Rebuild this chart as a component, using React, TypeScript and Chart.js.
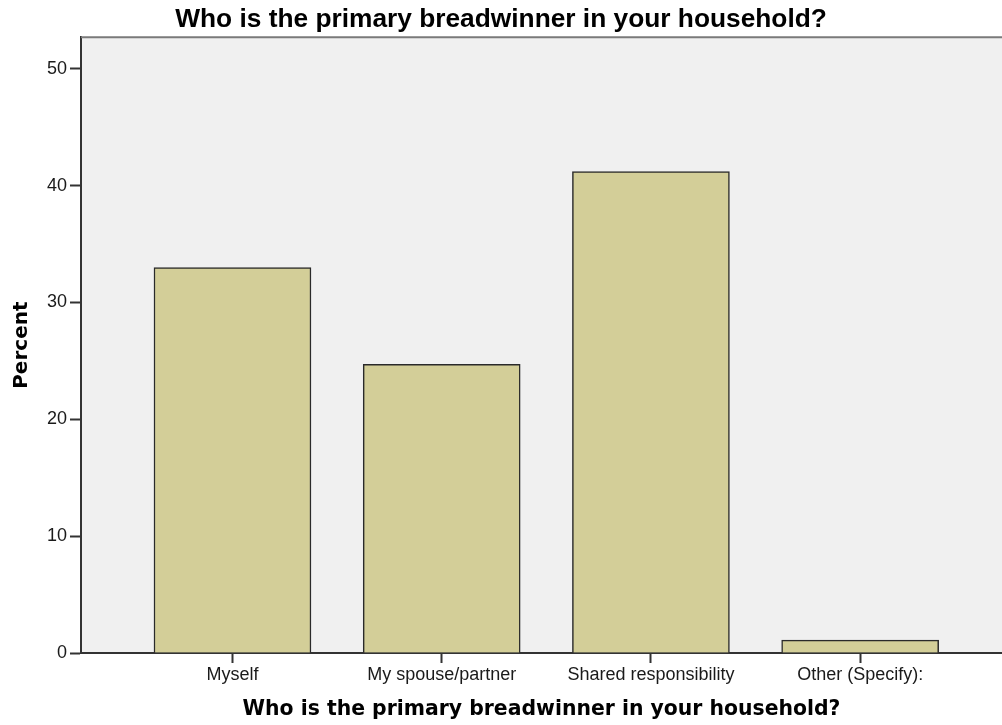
import React, { useEffect, useRef } from "react";
import { Chart, registerables } from "chart.js";

Chart.register(...registerables);

const categories: string[] = ["Myself", "My spouse/partner", "Shared responsibility", "Other (Specify):"];
const percentValues: number[] = [33.0, 24.7, 41.2, 1.1];
const yTickValues: number[] = [0, 10, 20, 30, 40, 50];
const chartTitle = "Who is the primary breadwinner in your household?";
const xAxisTitle = "Who is the primary breadwinner in your household?";
const yAxisTitle = "Percent";

const plotFramePlugin = {
  id: "plotFrame",
  beforeDraw(chart: any) {
    const { ctx, chartArea } = chart;
    ctx.save();
    ctx.fillStyle = "#f0f0f0";
    ctx.fillRect(chartArea.left, chartArea.top, chartArea.right - chartArea.left, chartArea.bottom - chartArea.top);
    ctx.restore();
  },
  afterDraw(chart: any) {
    const { ctx, chartArea } = chart;
    ctx.save();
    ctx.strokeStyle = "#7a7a7a";
    ctx.lineWidth = 2;
    ctx.beginPath();
    ctx.moveTo(chartArea.left, chartArea.top);
    ctx.lineTo(chartArea.right, chartArea.top);
    ctx.stroke();
    ctx.restore();
  },
};

export default function App() {
  const canvasRef = useRef<HTMLCanvasElement | null>(null);

  useEffect(() => {
    if (!canvasRef.current) return;
    const chart = new Chart(canvasRef.current, {
      type: "bar",
      data: {
        datasets: [
          {
            label: yAxisTitle,
            data: percentValues.map((v, i) => ({ x: i, y: v })),
            backgroundColor: "#d3ce98",
            borderColor: "#2a2a2a",
            borderWidth: 1.5,
            barThickness: 157,
          } as any,
        ],
      },
      options: {
        animation: false,
        responsive: true,
        maintainAspectRatio: false,
        layout: { padding: 0 },
        plugins: {
          legend: { display: false },
          tooltip: { enabled: false },
          title: {
            display: true,
            text: chartTitle,
            color: "#000",
            font: { family: "'Liberation Sans', Arial, sans-serif", size: 26.3, weight: "bold", lineHeight: 1 },
            padding: { top: 7, bottom: 4 },
          },
        },
        scales: {
          x: {
            type: "linear",
            min: -0.724,
            max: 3.678,
            offset: false,
            afterFit(scale: any) {
              scale.height = 72;
            },
            afterBuildTicks(scale: any) {
              scale.ticks = categories.map((_, i) => ({ value: i }));
            },
            ticks: {
              autoSkip: false,
              maxRotation: 0,
              padding: 1,
              color: "#1a1a1a",
              font: { family: "'Liberation Sans', Arial, sans-serif", size: 18 },
              callback: (v: any) => categories[Number(v)] ?? "",
            },
            grid: {
              offset: false,
              drawOnChartArea: false,
              drawTicks: true,
              tickLength: 10,
              tickColor: "#333",
              tickWidth: 2,
            },
            border: { display: true, color: "#333", width: 2 },
            title: {
              display: true,
              text: xAxisTitle,
              color: "#000",
              font: { family: "'DejaVu Sans', Verdana, sans-serif", size: 20.4, weight: "bold" },
              padding: { top: 0, bottom: 3 },
            },
          },
          y: {
            type: "linear",
            min: 0,
            max: 52.7,
            afterFit(scale: any) {
              scale.width = 81;
            },
            afterBuildTicks(scale: any) {
              scale.ticks = yTickValues.map((v) => ({ value: v }));
            },
            ticks: {
              padding: 3,
              color: "#1a1a1a",
              font: { family: "'Liberation Sans', Arial, sans-serif", size: 18 },
            },
            grid: {
              drawOnChartArea: false,
              drawTicks: true,
              tickLength: 11,
              tickColor: "#333",
              tickWidth: 2,
            },
            border: { display: true, color: "#333", width: 2 },
            title: {
              display: true,
              text: yAxisTitle,
              color: "#000",
              font: { family: "'DejaVu Sans', Verdana, sans-serif", size: 20, weight: "bold" },
              padding: { top: 10, bottom: 0 },
            },
          },
        },
      } as any,
      plugins: [plotFramePlugin],
    });
    return () => chart.destroy();
  }, []);

  return (
    <div style={{ position: "fixed", left: 0, top: 0, width: 1002, height: 725, background: "#fff" }}>
      <canvas ref={canvasRef} />
    </div>
  );
}
